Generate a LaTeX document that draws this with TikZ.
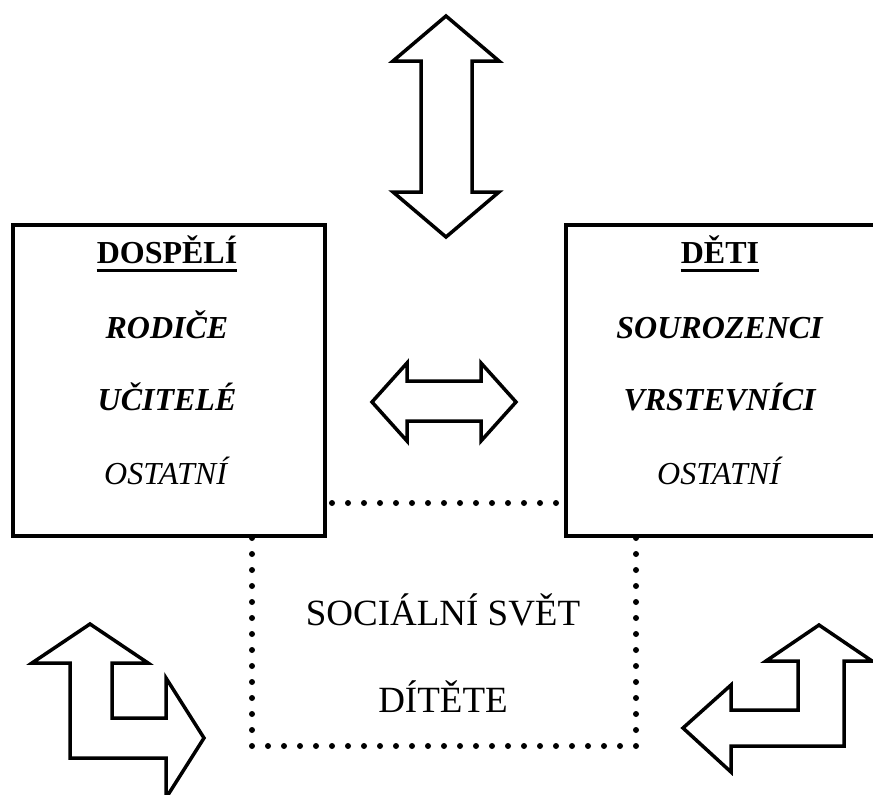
\documentclass[tikz,border=0pt]{standalone}
\usepackage{fontspec}
\setmainfont{Liberation Serif}
\begin{document}
\begin{tikzpicture}[x=1pt,y=-1pt,
  box/.style={draw, line width=4pt, inner sep=0pt, minimum width=312pt, minimum height=311pt, anchor=north west},
  blockarrow/.style={draw, line width=3.5pt, fill=white, line join=miter},
  dots/.style={line width=6pt, line cap=round, dash pattern=on 0pt off 16pt},
  lbl/.style={inner sep=0pt, anchor=base, font=\fontsize{32}{38}\selectfont},
  big/.style={inner sep=0pt, anchor=base, font=\fontsize{37}{44}\selectfont},
  uline/.style={line width=3pt}]
\clip (0,0) rectangle (873,795);
\fill[white] (0,0) rectangle (873,795);

% boxes
\node[box] (adults) at (11,223) {};
\node[box] (kids) at (564,223) {};

% texts in left box
\node[lbl] (t1) at (167,263) {\textbf{DOSPĚLÍ}};
\draw[uline] ([yshift=-7pt]t1.base west) -- ([yshift=-7pt]t1.base east);
\node[lbl] (t2) at (167,338) {\textbf{\textit{RODIČE}}};
\node[lbl] (t3) at (167,410) {\textbf{\textit{UČITELÉ}}};
\node[lbl] (t4) at (167,484) {\textit{OSTATNÍ}};

% texts in right box
\node[lbl] (r1) at (720,263) {\textbf{DĚTI}};
\draw[uline] ([yshift=-7pt]r1.base west) -- ([yshift=-7pt]r1.base east);
\node[lbl] (r2) at (720,338) {\textbf{\textit{SOUROZENCI}}};
\node[lbl] (r3) at (720,410) {\textbf{\textit{VRSTEVNÍCI}}};
\node[lbl] (r4) at (720,484) {\textit{OSTATNÍ}};

% dotted lines
\coordinate (h1) at (332,503);
\coordinate (h2) at (558,503);
\draw[dots] (h1) -- (h2);
\coordinate (d1) at (252,538);
\coordinate (d2) at (252,746);
\coordinate (d3) at (636,746);
\coordinate (d4) at (636,536);
\draw[dots] (d1) -- (d2) -- (d3) -- (d4);

% centre text
\node[big] (s1) at (443,625) {SOCIÁLNÍ SVĚT};
\node[big] (s2) at (443,712) {DÍTĚTE};

% top vertical double arrow
\draw[blockarrow] (446,16) -- (499,61) -- (472,61) -- (472,192) -- (499,192) -- (446,237)
  -- (393,192) -- (421,192) -- (421,61) -- (393,61) -- cycle;

% middle horizontal double arrow
\draw[blockarrow] (372,402) -- (407,363) -- (407,381) -- (481,381) -- (481,363) -- (516,402)
  -- (481,441) -- (481,421) -- (407,421) -- (407,441) -- cycle;

% bottom-left bent arrow
\draw[blockarrow] (90,624) -- (148,663) -- (112,663) -- (112,718) -- (166,718) -- (166,678)
  -- (204,738) -- (166,798) -- (166,758) -- (70,758) -- (70,663) -- (32,663) -- cycle;

% bottom-right bent arrow
\draw[blockarrow] (819,625) -- (872,661) -- (844,661) -- (844,746) -- (731,746) -- (731,772)
  -- (683,728) -- (731,685) -- (731,710) -- (798,710) -- (798,661) -- (766,661) -- cycle;
\end{tikzpicture}
\end{document}
